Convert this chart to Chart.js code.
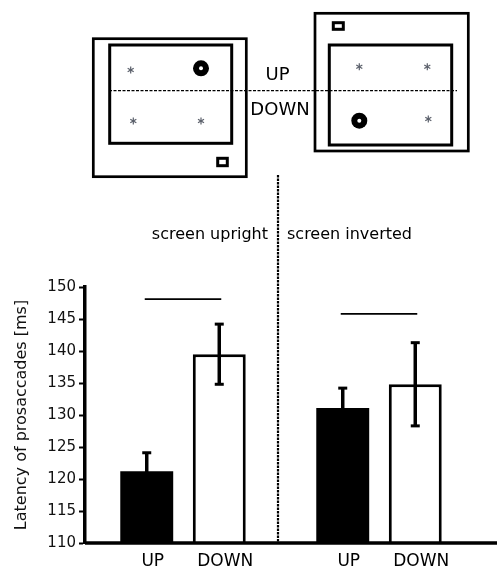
<!DOCTYPE html>
<html>
<head>
<meta charset="utf-8">
<script src="https://cdn.jsdelivr.net/npm/chart.js@4"></script>
<style>
  html, body { margin: 0; padding: 0; background: #fff; }
  #wrap { width: 497px; height: 572px; }
</style>
</head>
<body>
<div id="wrap"><canvas id="chart" width="497" height="572"></canvas></div>
<script>
// ── Data ────────────────────────────────────────────────
const GROUPS = ['screen upright', 'screen inverted'];
const CONDITIONS = ['UP', 'DOWN'];
const UP_MEAN = [121.2, 131.1];
const DOWN_MEAN = [139.5, 134.8];
const UP_ERR = [2.9, 3.1];
const DOWN_ERR = [4.7, 6.5];
const SIG_LEVEL = [148.1, 145.8];
const Y_MIN = 110, Y_MAX = 150, Y_STEP = 5;

const FONT = "'DejaVu Sans', sans-serif";

// ── Helpers ─────────────────────────────────────────────
function star(ctx, x, y) {
  ctx.save();
  ctx.strokeStyle = '#5a5f6a';
  ctx.lineWidth = 1.2;
  for (let k = 0; k < 3; k++) {
    const a = Math.PI / 2 + k * Math.PI / 3;
    ctx.beginPath();
    ctx.moveTo(x - 3.5 * Math.cos(a), y - 3.5 * Math.sin(a));
    ctx.lineTo(x + 3.5 * Math.cos(a), y + 3.5 * Math.sin(a));
    ctx.stroke();
  }
  ctx.restore();
}

function target(ctx, x, y) {
  ctx.fillStyle = '#000';
  ctx.beginPath(); ctx.arc(x, y, 8, 0, Math.PI * 2); ctx.fill();
  ctx.fillStyle = '#fff';
  ctx.beginPath(); ctx.arc(x, y, 2, 0, Math.PI * 2); ctx.fill();
}

// ── Schematic of the two screens (illustration, not data) ──
const screens = {
  id: 'screens',
  afterDraw(chart) {
    const { ctx } = chart;
    ctx.save();
    ctx.strokeStyle = '#000';

    // upright monitor
    ctx.lineWidth = 2.7; ctx.strokeRect(93.3, 38.7, 153, 138);
    ctx.lineWidth = 3;   ctx.strokeRect(109.7, 45, 122, 98.3);
    ctx.lineWidth = 3;   ctx.strokeRect(217.7, 158.3, 9.6, 7.4);
    star(ctx, 130.7, 70); star(ctx, 133.3, 121); star(ctx, 201, 121);
    target(ctx, 201, 68.3);

    // inverted monitor
    ctx.strokeStyle = '#000';
    ctx.lineWidth = 2.7; ctx.strokeRect(315, 13.3, 153.3, 137.7);
    ctx.lineWidth = 3;   ctx.strokeRect(329.3, 45, 122.4, 100);
    ctx.lineWidth = 3;   ctx.strokeRect(333.3, 22.7, 10, 6.6);
    star(ctx, 359.3, 66.7); star(ctx, 427.3, 66.7); star(ctx, 428.3, 119);
    target(ctx, 359.3, 120.7);

    // horizon line
    ctx.strokeStyle = '#000';
    ctx.lineWidth = 1.3;
    ctx.setLineDash([3, 1.5]);
    ctx.beginPath(); ctx.moveTo(109, 90.7); ctx.lineTo(457, 90.7); ctx.stroke();
    ctx.setLineDash([]);

    ctx.fillStyle = '#000';
    ctx.font = `18px ${FONT}`;
    ctx.textAlign = 'center';
    ctx.textBaseline = 'middle';
    ctx.fillText('UP', 277.5, 75.5);
    ctx.fillText('DOWN', 280, 110.5);
    ctx.restore();
  },
};

// ── Error bars, significance lines, labels ──────────────
const annotations = {
  id: 'annotations',
  afterDraw(chart) {
    const { ctx, chartArea, scales: { y } } = chart;
    const errs = [UP_ERR, DOWN_ERR];
    const upBars = chart.getDatasetMeta(0).data;
    const downBars = chart.getDatasetMeta(1).data;
    ctx.save();
    ctx.strokeStyle = '#000';
    ctx.fillStyle = '#000';

    // error bars
    chart.data.datasets.forEach((ds, di) => {
      chart.getDatasetMeta(di).data.forEach((bar, i) => {
        const v = ds.data[i], e = errs[di][i];
        const top = y.getPixelForValue(v + e);
        const bot = y.getPixelForValue(v - e);
        ctx.lineWidth = 3.5;
        ctx.beginPath(); ctx.moveTo(bar.x, top); ctx.lineTo(bar.x, bot); ctx.stroke();
        ctx.lineWidth = 3;
        [top, bot].forEach((py) => {
          ctx.beginPath(); ctx.moveTo(bar.x - 4.5, py); ctx.lineTo(bar.x + 4.5, py); ctx.stroke();
        });
      });
    });

    // significance lines
    ctx.lineWidth = 1.8;
    SIG_LEVEL.forEach((lvl, i) => {
      const py = y.getPixelForValue(lvl);
      ctx.beginPath(); ctx.moveTo(upBars[i].x - 2, py); ctx.lineTo(downBars[i].x + 2, py); ctx.stroke();
    });

    // x axis (runs out to the edge)
    ctx.lineWidth = 3.5;
    ctx.beginPath(); ctx.moveTo(chartArea.left, chartArea.bottom); ctx.lineTo(chart.width, chartArea.bottom); ctx.stroke();

    // divider between the two conditions
    const divX = (chartArea.left + chartArea.right) / 2 - 3;
    ctx.lineWidth = 2.2;
    ctx.setLineDash([2.5, 1]);
    ctx.beginPath(); ctx.moveTo(divX, 175); ctx.lineTo(divX, chartArea.bottom); ctx.stroke();
    ctx.setLineDash([]);

    // group labels
    ctx.font = `16px ${FONT}`;
    ctx.textBaseline = 'middle';
    ctx.textAlign = 'right';
    ctx.fillText(GROUPS[0], divX - 10, 235);
    ctx.textAlign = 'left';
    ctx.fillText(GROUPS[1], divX + 9, 235);

    // condition labels under each bar
    ctx.font = `17px ${FONT}`;
    ctx.textAlign = 'center';
    [upBars, downBars].forEach((bars, di) => {
      bars.forEach((bar) => ctx.fillText(CONDITIONS[di], bar.x + 6, 562));
    });
    ctx.restore();
  },
};

// ── Chart ───────────────────────────────────────────────
new Chart(document.getElementById('chart'), {
  type: 'bar',
  data: {
    labels: GROUPS,
    datasets: [
      {
        label: CONDITIONS[0],
        data: UP_MEAN,
        backgroundColor: '#000',
        borderColor: '#000',
        borderWidth: 0,
        categoryPercentage: 0.74,
        barPercentage: 0.73,
      },
      {
        label: CONDITIONS[1],
        data: DOWN_MEAN,
        backgroundColor: '#fff',
        borderColor: '#000',
        borderWidth: 3,
        categoryPercentage: 0.74,
        barPercentage: 0.73,
      },
    ],
  },
  options: {
    responsive: false,
    animation: false,
    layout: { padding: { top: 287, right: 20, left: 0, bottom: 0 } },
    plugins: { legend: { display: false }, tooltip: { enabled: false } },
    scales: {
      x: {
        grid: { display: false },
        border: { display: false },
        ticks: { display: false },
        afterFit: (scale) => { scale.height = 29; },
      },
      y: {
        min: Y_MIN,
        max: Y_MAX,
        ticks: { stepSize: Y_STEP, color: '#111', padding: 3, font: { family: FONT, size: 15 } },
        grid: { drawOnChartArea: false, drawTicks: true, tickLength: 6, tickColor: '#000', tickWidth: 2 },
        border: { display: true, color: '#000', width: 3.5 },
        title: {
          display: true,
          text: 'Latency of prosaccades [ms]',
          color: '#111',
          font: { family: FONT, size: 16 },
          padding: { top: 12, bottom: 0 },
        },
        afterFit: (scale) => { scale.width = 85; },
      },
    },
  },
  plugins: [screens, annotations],
});
</script>
</body>
</html>
